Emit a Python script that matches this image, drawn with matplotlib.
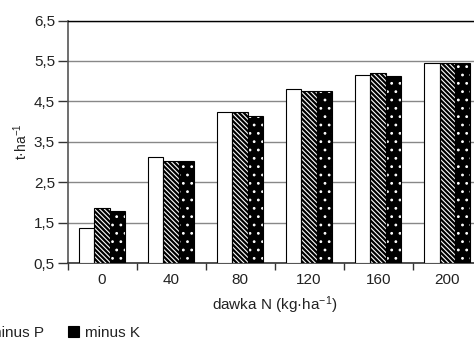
import matplotlib
matplotlib.use("Agg")
import matplotlib.pyplot as plt
from matplotlib.patches import Patch
import numpy as np

plt.rcParams["font.family"] = ["Liberation Sans", "DejaVu Sans"]
plt.rcParams["mathtext.fontset"] = "custom"
plt.rcParams["mathtext.rm"] = "Liberation Sans"
plt.rcParams["mathtext.it"] = "Liberation Sans"
plt.rcParams["hatch.linewidth"] = 0.8

# plony (t/ha) dla kolejnych dawek N
doses = ["0", "40", "80", "120", "160", "200"]
npk = [1.38, 3.12, 4.24, 4.80, 5.16, 5.45]
minus_p = [1.86, 3.04, 4.23, 4.76, 5.21, 5.44]
minus_k = [1.79, 3.02, 4.15, 4.76, 5.12, 5.46]
series_names = ["NPK", "minus P", "minus K"]
yticks = [0.5, 1.5, 2.5, 3.5, 4.5, 5.5, 6.5]

FS = 11
fig = plt.figure(figsize=(4.74, 3.43), dpi=100)
ax = fig.add_axes([67.5 / 474, (343 - 263.3) / 343, (481.7 - 67.5) / 474, (263.3 - 20.5) / 343])

x = np.arange(len(doses))
w = 0.222
base = 0.5
styles = [
    dict(face="white", hatch=None, hcol="black"),
    dict(face="black", hatch="\\\\\\\\\\\\\\", hcol="white"),
    dict(face="black", hatch="..", hcol="white"),
]
for vals, off, st in zip([npk, minus_p, minus_k], [-w, 0, w], styles):
    h = np.array(vals) - base
    # fill + hatch first, then the black outline on top
    ax.bar(x + off, h, w, bottom=base, color=st["face"], hatch=st["hatch"],
           edgecolor=st["hcol"], linewidth=0, zorder=3)
    ax.bar(x + off, h, w, bottom=base, fill=False, edgecolor="black",
           linewidth=0.8, zorder=4)

ax.set_xlim(-0.5, len(doses) - 0.5)
ax.set_ylim(0.5, 6.5)
ax.set_yticks(yticks)
ax.set_yticklabels([f"{v:.1f}".replace(".", ",") for v in yticks], fontsize=FS, color="#222222")
ax.set_xticks(x)
ax.set_xticklabels(doses, fontsize=FS, color="#222222")
ax.set_xticks(np.arange(len(doses) + 1) - 0.5, minor=True)
ax.tick_params(axis="x", which="major", length=0, pad=7)
ax.tick_params(axis="x", which="minor", length=5, width=1, color="#333333", direction="out")
ax.tick_params(axis="y", length=7, width=1, color="#333333", pad=2)

ax.grid(axis="y", color="#888888", linewidth=1, zorder=0)
ax.set_axisbelow(True)
ax.spines["right"].set_visible(False)
ax.spines["top"].set_color("black")
ax.spines["top"].set_linewidth(1.0)
ax.spines["left"].set_color("#555555")
ax.spines["left"].set_linewidth(1.2)
ax.spines["bottom"].set_color("#333333")
ax.spines["bottom"].set_linewidth(1.2)

ax.set_xlabel("dawka N (kg·ha$^{-1}$)", fontsize=FS, labelpad=5, color="#222222")
ax.set_ylabel("t·ha$^{-1}$", fontsize=FS - 1, labelpad=3, color="#222222")

handles = [Patch(facecolor=st["face"], hatch=st["hatch"], edgecolor="black", linewidth=0.8)
           for st in styles]
leg = fig.legend(handles, series_names, ncol=3, loc="center left",
                 bbox_to_anchor=(0, (343 - 333) / 343), frameon=False, fontsize=FS,
                 handlelength=0.75, handleheight=0.75, handletextpad=0.35,
                 columnspacing=1.6, borderaxespad=0, borderpad=0)
for t in leg.get_texts():
    t.set_color("#222222")

# przesuń legendę tak, by znacznik "minus K" zaczynał się przy x = 68 px
fig.canvas.draw()
x0 = leg.legend_handles[2].get_window_extent().x0
leg.set_bbox_to_anchor(((68 - x0) / 474, (343 - 333) / 343), transform=fig.transFigure)

fig.savefig("out.png", dpi=100)
